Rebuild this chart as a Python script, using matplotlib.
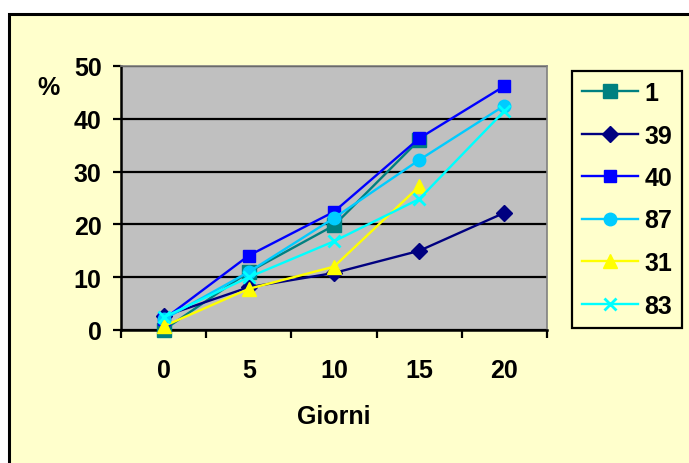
import numpy as np
import matplotlib
matplotlib.use("Agg")
import matplotlib.pyplot as plt
from matplotlib.patches import Rectangle

plt.rcParams['font.family'] = ['Liberation Sans', 'DejaVu Sans']
plt.rcParams['font.weight'] = 'bold'

giorni = ["0", "5", "10", "15", "20"]
s1 = [0.0, 11.0, 19.8, 36.0, np.nan]
s39 = [2.6, 8.1, 10.8, 15.0, 22.2]
s40 = [2.0, 14.1, 22.4, 36.3, 46.2]
s87 = [2.0, 11.0, 21.2, 32.2, 42.5]
s31 = [0.7, 7.8, 12.0, 27.2, np.nan]
s83 = [2.4, 10.0, 16.8, 24.8, 41.5]

series = [
    ("1", s1, "#008080", "s", 10),
    ("39", s39, "#000080", "D", 8.5),
    ("40", s40, "#0000FF", "s", 9),
    ("87", s87, "#00CCFF", "o", 9),
    ("31", s31, "#FFFF00", "^", 10),
    ("83", s83, "#00FFFF", "x", 8.5),
]

FS = 18
W, H = 689, 464
fig = plt.figure(figsize=(W / 100, H / 100), dpi=100)
fig.patch.set_facecolor("white")

# chart area frame
frame = Rectangle((8.5 / W, -0.05), 1.1, 1 - 15 / H + 0.05, transform=fig.transFigure,
                  facecolor="#FFFFCC", edgecolor="black", linewidth=2.2, zorder=-10)
fig.patches.append(frame)

ax = fig.add_axes([121 / W, (H - 331) / H, (547 - 121) / W, (331 - 67) / H])
ax.set_facecolor("#C0C0C0")

x = np.arange(len(giorni))
handles = []
for name, vals, color, mk, ms in series:
    kw = dict(color=color, linewidth=1.7, marker=mk, markersize=ms,
              markerfacecolor=color, markeredgecolor=color, label=name,
              clip_on=False, zorder=3)
    if mk == "x":
        kw["markeredgewidth"] = 2
    ln, = ax.plot(x, vals, **kw)
    handles.append(ln)

ax.set_xlim(-0.5, len(giorni) - 0.5)
ax.set_ylim(0, 50)
ax.set_yticks([0, 10, 20, 30, 40, 50])
ax.yaxis.grid(True, color="black", linewidth=1.6)
ax.set_axisbelow(True)

ax.set_xticks(np.arange(-0.5, len(giorni), 1.0))
ax.set_xticklabels([])
ax.set_xticks(x, minor=True)
ax.set_xticklabels(giorni, minor=True)
ax.tick_params(axis="x", which="major", length=6, width=1.6, direction="out")
ax.tick_params(axis="x", which="minor", length=0, pad=20)
ax.tick_params(axis="y", length=6, width=1.6, direction="out", pad=8)
for lab in ax.get_xticklabels(minor=True) + ax.get_yticklabels():
    lab.set_fontsize(FS)
    lab.set_fontweight("bold")

for side in ("left", "bottom"):
    ax.spines[side].set_color("black")
    ax.spines[side].set_linewidth(1.8)
for side in ("top", "right"):
    ax.spines[side].set_color("#808080")
    ax.spines[side].set_linewidth(1.2)

ax.set_xlabel("Giorni", fontsize=FS, fontweight="bold", labelpad=16)
fig.text(48 / W, 1 - 88 / H, "%", fontsize=FS, fontweight="bold",
         ha="center", va="center")

leg = fig.legend(handles=handles, loc="upper left",
                 bbox_to_anchor=(572 / W, 1 - 72 / H),
                 frameon=True, fancybox=False, facecolor="#FFFFCC",
                 edgecolor="black", framealpha=1,
                 prop={"size": FS, "weight": "bold"},
                 handlelength=2.25, handletextpad=0.25, labelspacing=0.74,
                 borderpad=0.4, borderaxespad=0)
leg.get_frame().set_linewidth(1.6)

fig.savefig("out.png", dpi=100, facecolor=fig.get_facecolor())
